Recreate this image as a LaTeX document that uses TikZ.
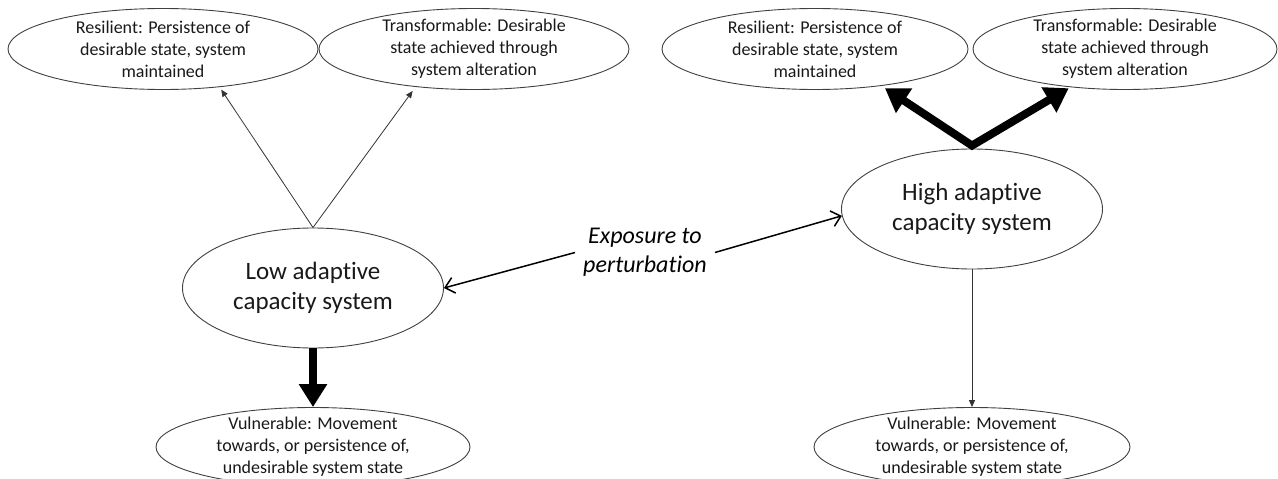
\documentclass[tikz,border=0pt]{standalone}
\usepackage{fontspec}
\setmainfont{Carlito}[Ligatures={NoCommon},RawFeature={-liga}]
\usetikzlibrary{arrows.meta,shapes.geometric}
\begin{document}
\begin{tikzpicture}[x=1pt,y=-1pt,
  ell/.style={ellipse,draw=black!75,line width=0.9pt,inner sep=0pt},
  smallell/.style={ell,minimum width=310pt,minimum height=81pt},
  bigell/.style={ell,minimum width=261pt,minimum height=120pt},
  smalltxt/.style={font=\fontsize{18}{22}\selectfont,align=center,text=black!90,inner sep=0pt},
  bigtxt/.style={font=\fontsize{25}{30}\selectfont,align=center,text=black!90,inner sep=0pt},
  thinarrow/.style={-{Triangle[width=6pt,length=7pt]},line width=0.8pt,draw=black!80},
  thickarrow/.style={{Triangle[width=28pt,length=23pt]}-{Triangle[width=28pt,length=23pt]},line width=8pt,line join=miter},
  thickdown/.style={-{Triangle[width=27pt,length=23pt]},line width=8pt},
  expoarrow/.style={-{Straight Barb[length=9pt,width=16pt]},line width=1.5pt}
]
\clip (0,0) rectangle (1278,479);

% left system
\node[smallell] (resL) at (163,49) {};
\node[smalltxt] (resLt) at (resL) {Resilient: Persistence of\\desirable state, system\\maintained};
\node[smallell] (trL) at (474,49) {};
\node[smalltxt] (trLt) at (trL) {Transformable: Desirable\\state achieved through\\system alteration};
\node[bigell] (low) at (313,288) {};
\node[bigtxt] (lowt) at (low) {Low adaptive\\capacity system};
\node[ell,minimum width=314pt,minimum height=79pt] (vulL) at (313,447) {};
\node[smalltxt] (vulLt) at (vulL) {Vulnerable: Movement\\towards, or persistence of,\\undesirable system state};

% right system
\node[ell,minimum width=306pt,minimum height=81pt] (resR) at (815,49) {};
\node[smalltxt] (resRt) at (resR) {Resilient: Persistence of\\desirable state, system\\maintained};
\node[ell,minimum width=304pt,minimum height=81pt] (trR) at (1125,49) {};
\node[smalltxt] (trRt) at (trR) {Transformable: Desirable\\state achieved through\\system alteration};
\node[bigell] (high) at (972,209) {};
\node[bigtxt] (hight) at (high) {High adaptive\\capacity system};
\node[ell,minimum width=316pt,minimum height=79pt] (vulR) at (972,447) {};
\node[smalltxt] (vulRt) at (vulR) {Vulnerable: Movement\\towards, or persistence of,\\undesirable system state};

% exposure label
\node[font=\fontsize{24}{29}\selectfont\itshape,align=center,inner xsep=8pt,inner ysep=0pt] (expo) at (645,252.5) {Exposure to\\perturbation};

% connectors
\draw[thinarrow,shorten >=3pt] (low.north) -- (resL.-34.6);
\draw[thinarrow,shorten >=5pt] (low.north) -- (trL.213);
\draw[thickdown] (low.south) -- (vulL.north);

\draw[thickarrow,shorten <=4pt,shorten >=2pt] (resR.-29.4) -- ([yshift=3pt]high.north) -- (trR.215.6);
\draw[thinarrow] (high.south) -- (vulR.north);

\draw[expoarrow] (expo.west) -- (low.east);
\draw[expoarrow] (expo.east) -- (high.183.5);
\end{tikzpicture}
\end{document}
